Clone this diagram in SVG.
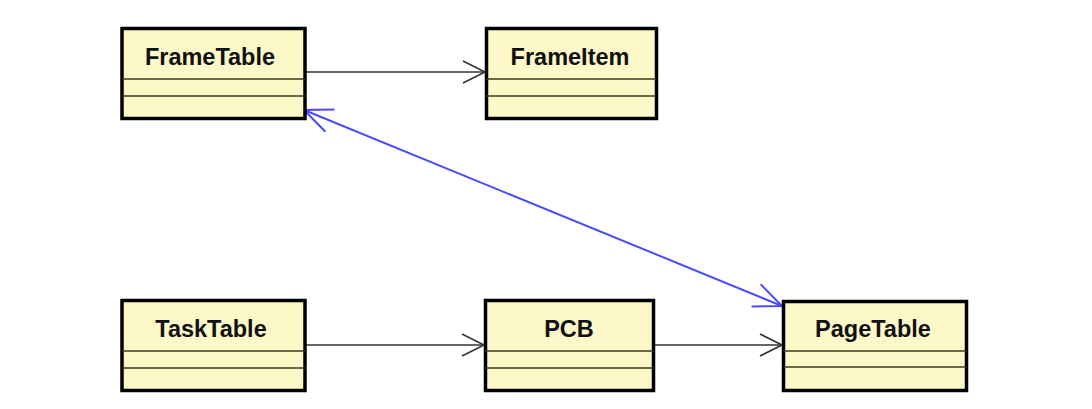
<svg xmlns="http://www.w3.org/2000/svg" width="1092" height="409" viewBox="0 0 1092 409">
<style>
.box{fill:#fdf8c8;stroke:#000;stroke-width:3.5}
.div{stroke:#3a3a1e;stroke-width:1.6}
.lbl{font-family:"Liberation Sans",Arial,sans-serif;font-weight:bold;font-size:23.5px;fill:#111;text-anchor:middle;dominant-baseline:central}
.dep{stroke:#333;stroke-width:1.6;fill:none}
.assoc{stroke:#4a4aff;stroke-width:2;fill:none}
</style>
<defs>
<marker id="ah" viewBox="0 0 26 26" refX="24" refY="13" markerWidth="26" markerHeight="26" markerUnits="userSpaceOnUse" orient="auto">
<path d="M2,2 L24,13 L2,24" fill="none" stroke="#333" stroke-width="1.6"/>
</marker>
<marker id="ahb" viewBox="0 0 32 32" refX="30" refY="16" markerWidth="32" markerHeight="32" markerUnits="userSpaceOnUse" orient="auto-start-reverse">
<path d="M2,4 L30,16 L2,28" fill="none" stroke="#4a4aff" stroke-width="2"/>
</marker>
</defs>
<rect width="1092" height="409" fill="#fff"/>
<g id="connectors">
<line class="dep" x1="306" y1="72" x2="485" y2="72" marker-end="url(#ah)"/>
<line class="dep" x1="306" y1="345" x2="484" y2="345" marker-end="url(#ah)"/>
<line class="dep" x1="655" y1="345" x2="782" y2="345" marker-end="url(#ah)"/>
<line class="assoc" x1="304" y1="110" x2="782" y2="306" marker-start="url(#ahb)" marker-end="url(#ahb)"/>
</g>
<g id="FrameTable">
<rect class="box" x="122" y="28.5" width="183" height="90"/>
<line class="div" x1="122" y1="79" x2="305" y2="79"/>
<line class="div" x1="122" y1="96" x2="305" y2="96"/>
<text class="lbl" x="210" y="57">FrameTable</text>
</g>
<g id="FrameItem">
<rect class="box" x="486.5" y="28.5" width="170" height="90"/>
<line class="div" x1="486.5" y1="79" x2="656.5" y2="79"/>
<line class="div" x1="486.5" y1="96" x2="656.5" y2="96"/>
<text class="lbl" x="570" y="57">FrameItem</text>
</g>
<g id="TaskTable">
<rect class="box" x="122" y="300.5" width="183" height="90"/>
<line class="div" x1="122" y1="351" x2="305" y2="351"/>
<line class="div" x1="122" y1="368" x2="305" y2="368"/>
<text class="lbl" x="211" y="329">TaskTable</text>
</g>
<g id="PCB">
<rect class="box" x="485.5" y="300.5" width="168" height="90"/>
<line class="div" x1="485.5" y1="351" x2="653.5" y2="351"/>
<line class="div" x1="485.5" y1="368" x2="653.5" y2="368"/>
<text class="lbl" x="569" y="329">PCB</text>
</g>
<g id="PageTable">
<rect class="box" x="783.5" y="301.5" width="183" height="89"/>
<line class="div" x1="783.5" y1="351" x2="966.5" y2="351"/>
<line class="div" x1="783.5" y1="367" x2="966.5" y2="367"/>
<text class="lbl" x="873" y="329">PageTable</text>
</g>
</svg>
